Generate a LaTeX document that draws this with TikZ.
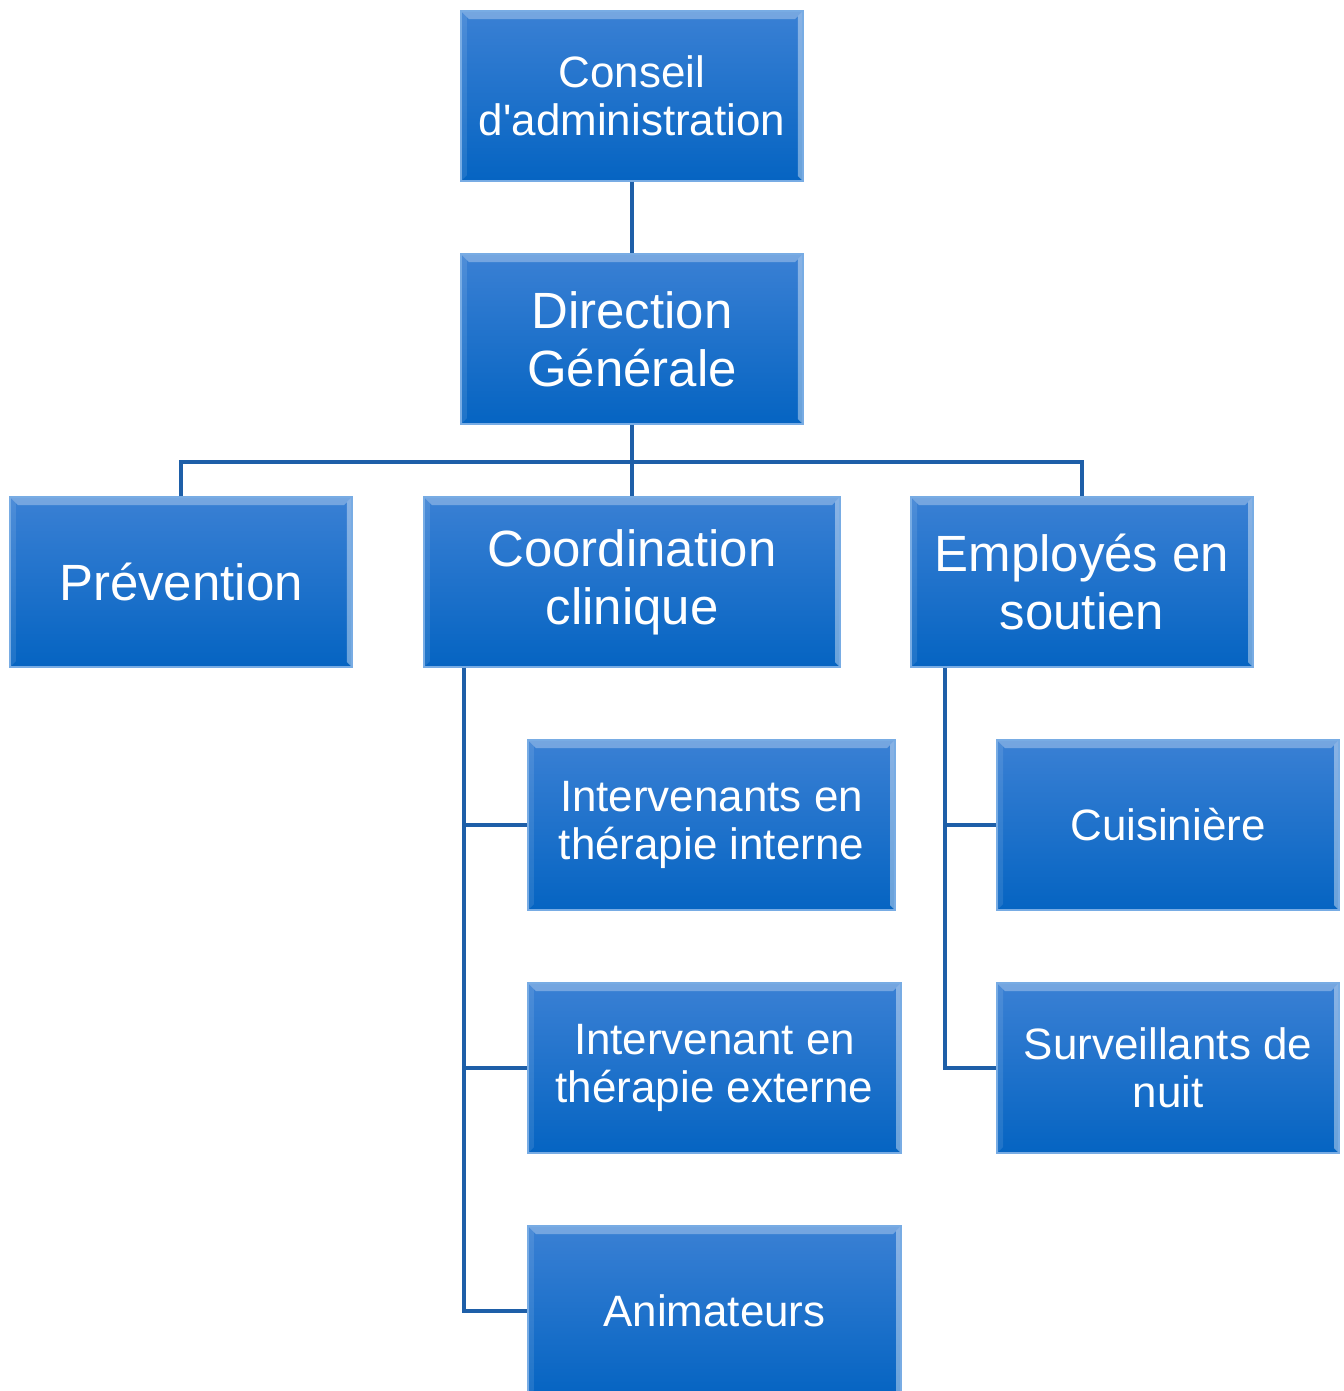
\documentclass[tikz,border=0pt]{standalone}
\usepackage{fontspec}
\setmainfont{Liberation Sans}
\usetikzlibrary{calc}
\definecolor{boxtop}{RGB}{58,128,212}
\definecolor{boxbot}{RGB}{5,100,194}
\definecolor{boxline}{RGB}{120,172,228}
\definecolor{wire}{RGB}{30,95,168}

\begin{document}
\begin{tikzpicture}[-,thick,node distance=4.86cm,
    unit node/.style={rectangle,minimum width=6.84cm,minimum height=3.4cm,inner sep=0pt,align=center,text=white,
        top color=boxtop,bottom color=boxbot,draw=boxline,line width=0.8pt,
        path picture={
            \fill[white,opacity=.3] (path picture bounding box.north west) -- (path picture bounding box.north east)
                -- ([xshift=-0.16cm,yshift=-0.16cm]path picture bounding box.north east)
                -- ([xshift=0.16cm,yshift=-0.16cm]path picture bounding box.north west) -- cycle;
            \fill[white,opacity=.4] (path picture bounding box.north east) -- (path picture bounding box.south east)
                -- ([xshift=-0.1cm,yshift=0.1cm]path picture bounding box.south east)
                -- ([xshift=-0.1cm,yshift=-0.1cm]path picture bounding box.north east) -- cycle;
            \fill[white,opacity=.1] (path picture bounding box.north west) -- (path picture bounding box.south west)
                -- ([xshift=0.12cm,yshift=0.12cm]path picture bounding box.south west)
                -- ([xshift=0.12cm,yshift=-0.12cm]path picture bounding box.north west) -- cycle;}},
    big/.style={font=\fontsize{29}{33}\selectfont},
    small/.style={font=\fontsize{25}{27.2}\selectfont},
    link/.style={draw=wire,line width=2.2pt}]

    \useasboundingbox (-12.64,1.92) rectangle (14.22,-25.9);

    \node[unit node,small] (cons) []{Conseil\\d\textquotesingle administration};
    \node[unit node,big] (dg) [below of = cons]{Direction\\Générale};
    \node[unit node,big,minimum width=8.32cm] (coord) [below of = dg]{Coordination\\clinique};
    \node[unit node,big] (prev) [below of = dg, xshift=-9.02cm]{Prévention};
    \node[unit node,big] (emp) [below of = dg, xshift=9cm]{Employés en\\soutien};

    \node[unit node,small,minimum width=7.34cm] (int) [below of = coord, xshift=1.59cm]{Intervenants en\\thérapie interne};
    \node[unit node,small,minimum width=7.46cm] (ext) [below of = int, xshift=0.06cm]{Intervenant en\\thérapie externe};
    \node[unit node,small,minimum width=7.46cm] (anim) [below of = ext]{Animateurs};

    \node[unit node,small] (cuis) [below of = emp, xshift=1.72cm]{Cuisinière};
    \node[unit node,small] (surv) [below of = cuis]{Surveillants de\\nuit};

    \path[link] (cons) edge (dg);
    \draw[link] (dg.south) -- ++(0,-0.74) coordinate (bus);
    \draw[link] (prev.north) |- (bus) -| (emp.north);
    \draw[link] (bus) -- (coord.north);

    \draw[link] ([xshift=0.82cm]coord.south west) coordinate (cl) |- (anim.west);
    \draw[link] (cl |- int.west) -- (int.west);
    \draw[link] (cl |- ext.west) -- (ext.west);

    \draw[link] ([xshift=0.7cm]emp.south west) coordinate (el) |- (surv.west);
    \draw[link] (el |- cuis.west) -- (cuis.west);
\end{tikzpicture}
\end{document}
